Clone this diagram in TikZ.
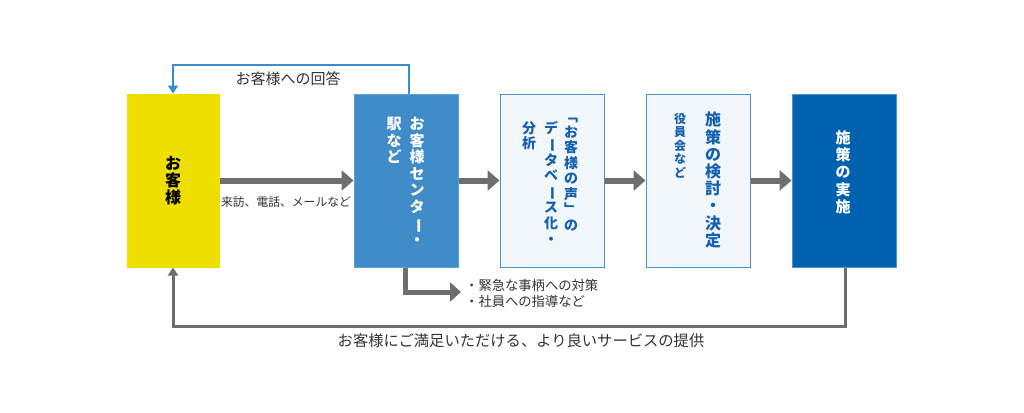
\documentclass[tikz,border=0pt]{standalone}
\usepackage{fontspec}
\setmainfont{Noto Sans CJK JP}
\newfontfamily\jp{Noto Sans CJK JP}
\usetikzlibrary{arrows.meta}
\definecolor{cyel}{HTML}{EEDF00}
\definecolor{cmid}{HTML}{3F8CC8}
\definecolor{cmidb}{HTML}{5AA0DA}
\definecolor{clite}{HTML}{F2F7FC}
\definecolor{cliteb}{HTML}{4A92D2}
\definecolor{cdark}{HTML}{0062AE}
\definecolor{ctxt}{HTML}{1560B0}
\definecolor{cgray}{HTML}{6E6E6E}
\definecolor{clab}{HTML}{333333}
\definecolor{cline}{HTML}{3C8CD0}
\newcommand{\vchoon}{\rotatebox[origin=c]{-90}{ー}}
\tikzset{
  box/.style={draw=#1, line width=1pt, minimum width=92pt, minimum height=173pt, inner sep=0pt},
  vcol/.style={anchor=north, inner sep=0pt, align=center},
  bigarrow/.style={draw=cgray, line width=6pt, -{Triangle[length=12pt,width=20pt]}},
  midarrow/.style={draw=cgray, line width=5pt, line join=miter, -{Triangle[length=11pt,width=19pt]}},
  thinarrow/.style={draw=cgray, line width=3pt, line join=miter, -{Triangle[length=8pt,width=10pt]}},
  bluearrow/.style={draw=cline, line width=2.5pt, line join=miter, -{Triangle[length=8pt,width=10pt]}},
  lab/.style={inner sep=0pt, text=clab, font=\jp\fontsize{13.3}{16}\selectfont},
}
\begin{document}
\begin{tikzpicture}[x=1pt,y=-1pt]
\useasboundingbox (0,0) rectangle (1024,412);
% boxes
\node[box=cyel, fill=cyel] (b1) at (173,180.5) {};
\node[box=cmidb, fill=cmid, minimum width=104pt] (b2) at (406,180.5) {};
\node[box=cliteb, fill=clite, minimum width=104pt] (b3) at (552,180.5) {};
\node[box=cliteb, fill=clite, minimum width=104pt] (b4) at (698,180.5) {};
\node[box=cliteb, fill=cdark, minimum width=104pt] (b5) at (844,180.5) {};
% box texts
\node[vcol, font=\jp\bfseries\fontsize{16}{17}\selectfont] (t1) at (173,156) {お\\客\\様};
\node[vcol, text=white, font=\jp\bfseries\fontsize{15}{16.6}\selectfont] (t2a) at (417,117) {お\\客\\様\\セ\\ン\\タ\\\vchoon\\・};
\node[vcol, text=white, font=\jp\bfseries\fontsize{15}{16.6}\selectfont] (t2b) at (394,117) {駅\\な\\ど};
\node[vcol, text=ctxt, font=\jp\bfseries\fontsize{14}{15.5}\selectfont] (t3a) at (571,118) {﹁\\お\\客\\様\\の\\声\\﹂\\の};
\node[vcol, text=ctxt, font=\jp\bfseries\fontsize{14}{15.8}\selectfont] (t3b) at (551,121) {デ\\\vchoon\\タ\\ベ\\\vchoon\\ス\\化\\・};
\node[vcol, text=ctxt, font=\jp\bfseries\fontsize{14}{15.8}\selectfont] (t3c) at (529,121) {分\\析};
\node[vcol, text=ctxt, font=\jp\bfseries\fontsize{16}{17.2}\selectfont] (t4a) at (713,112) {施\\策\\の\\検\\討\\・\\決\\定};
\node[vcol, text=ctxt, font=\jp\bfseries\fontsize{12}{13.5}\selectfont] (t4b) at (680,113) {役\\員\\会\\な\\ど};
\node[vcol, text=white, font=\jp\bfseries\fontsize{15}{17.4}\selectfont] (t5) at (843,130) {施\\策\\の\\実\\施};
% main arrows
\draw[bigarrow] (b1.east) -- (b2.west);
\draw[bigarrow] (b2.east) -- (b3.west);
\draw[bigarrow] (b3.east) -- (b4.west);
\draw[bigarrow] (b4.east) -- (b5.west);
\node[lab, font=\jp\fontsize{11.8}{14}\selectfont] (l1) at (286,202) {来訪、電話、メールなど};
% top feedback
\coordinate (p1) at (409,65);
\coordinate (p2) at (173,65);
\draw[bluearrow] (b2.north -| p1) -- (p1) -- (p2) -- (b1.north -| p2);
\node[lab, font=\jp\fontsize{15}{17}\selectfont] (l2) at (288,79) {お客様への回答};
% branch
\coordinate (k1) at (405,292);
\coordinate (k2) at (461,292);
\draw[midarrow] (b2.south -| k1) -- (k1) -- (k2);
\node[lab, anchor=west] (l3) at (465,285) {・緊急な事柄への対策};
\node[lab, anchor=west] (l4) at (465,301) {・社員への指導など};
% bottom feedback
\coordinate (u1) at (845,326);
\coordinate (u2) at (173,326);
\draw[thinarrow] (b5.south -| u1) -- (u1) -- (u2) -- (b1.south -| u2);
\node[lab, font=\jp\fontsize{15.3}{18}\selectfont] (l5) at (521,341) {お客様にご満足いただける、より良いサービスの提供};
\end{tikzpicture}
\end{document}
